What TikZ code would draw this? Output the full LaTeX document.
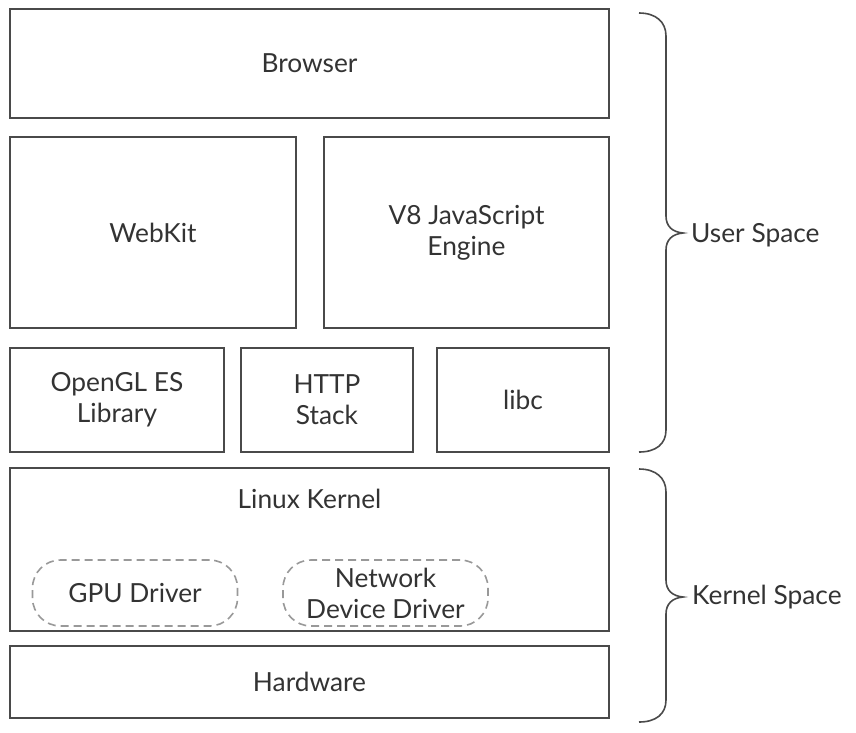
\documentclass[tikz,border=0pt]{standalone}
\usepackage{fontspec}
\setmainfont{Lato}
\begin{document}
\begin{tikzpicture}[x=1pt,y=-1pt,
  every node/.style={font=\fontsize{26.3}{31}\selectfont, text=txt},
  box/.style={draw=boxline, line width=1.6pt, rectangle, inner sep=0pt, align=center},
  drv/.style={draw=dashline, line width=1.6pt, dash pattern=on 8pt off 5pt, rounded corners=28pt, rectangle, inner sep=0pt, align=center},
  brace/.style={draw=boxline, line width=1.6pt},
  lbl/.style={anchor=west, inner sep=0pt}]
\definecolor{boxline}{HTML}{4A4A4A}
\definecolor{dashline}{HTML}{999999}
\definecolor{txt}{HTML}{333333}
\useasboundingbox[fill=white] (0,0) rectangle (856,732);
% boxes
\node[box, minimum width=599pt, minimum height=109pt] (browser) at (309.5,63.5) {Browser};
\node[box, minimum width=286pt, minimum height=191pt] (webkit) at (153,232.5) {WebKit};
\node[box, minimum width=285pt, minimum height=191pt] (v8) at (466.5,232.5) {V8 JavaScript\\Engine};
\node[box, minimum width=214pt, minimum height=104pt] (opengl) at (117,400) {OpenGL ES\\Library};
\node[box, minimum width=172pt, minimum height=104pt] (http) at (327,400) {HTTP\\Stack};
\node[box, minimum width=172pt, minimum height=104pt] (libc) at (523,400) {libc};
\node[box, minimum width=599pt, minimum height=163pt] (kernel) at (309.5,549.5) {};
\node[inner sep=0pt] (kerneltitle) at (309.5,499) {Linux Kernel};
\node[drv, minimum width=205pt, minimum height=66pt] (gpu) at (135,593) {GPU Driver};
\node[drv, minimum width=205pt, minimum height=66pt] (net) at (385.5,593) {Network\\Device Driver};
\node[box, minimum width=599pt, minimum height=72pt] (hw) at (309.5,682) {Hardware};
% braces
\coordinate (ustip) at (683,233);
\coordinate (kstip) at (683,597);
\draw[brace] (639,13) .. controls (656,13) and (666,22) .. (666,36) -- (666,216)
  .. controls (666,226) and (672,232) .. (ustip)
  .. controls (672,234) and (666,240) .. (666,250) -- (666,430)
  .. controls (666,444) and (656,452) .. (639,452);
\draw[brace] (639,469) .. controls (656,469) and (666,478) .. (666,492) -- (666,580)
  .. controls (666,590) and (672,596) .. (kstip)
  .. controls (672,598) and (666,604) .. (666,614) -- (666,700)
  .. controls (666,714) and (656,722) .. (639,722);
\node[lbl] (user) at (691,235) {User Space};
\node[lbl] (kspace) at (692,597) {Kernel Space};
\end{tikzpicture}
\end{document}
